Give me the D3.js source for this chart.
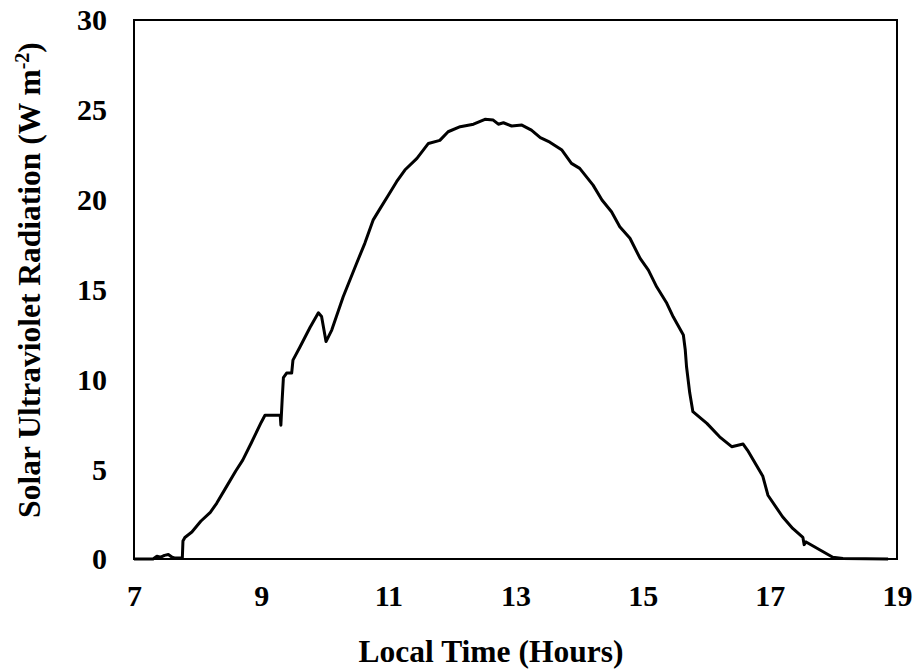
<!DOCTYPE html>
<html>
<head>
<meta charset="utf-8">
<script src="https://cdn.jsdelivr.net/npm/d3@7"></script>
<style>
  body { margin: 0; background: #fff; }
  svg text { font-family: "Liberation Serif", "Times New Roman", serif; font-weight: bold; fill: #000; }
</style>
</head>
<body>
<div id="container"></div>
<script>
/* DATA */
const hours = [7.00, 7.30, 7.36, 7.42, 7.48, 7.54, 7.60, 7.65, 7.76, 7.77, 7.80, 7.91, 8.05, 8.20, 8.30, 8.45,
  8.60, 8.71, 8.85, 9.00, 9.06, 9.30, 9.31, 9.33, 9.35, 9.40, 9.48, 9.50, 9.61, 9.77, 9.90, 9.95, 10.02, 10.11,
  10.29, 10.50, 10.63, 10.76, 10.87, 11.00, 11.13, 11.26, 11.45, 11.63, 11.81, 11.94, 12.13, 12.34, 12.52, 12.65,
  12.73, 12.81, 12.94, 13.10, 13.25, 13.39, 13.54, 13.73, 13.88, 14.01, 14.22, 14.36, 14.51, 14.64, 14.80, 14.96,
  15.09, 15.22, 15.38, 15.48, 15.64, 15.67, 15.69, 15.74, 15.79, 16.01, 16.21, 16.40, 16.58, 16.65, 16.89, 16.97,
  17.20, 17.36, 17.52, 17.54, 17.57, 17.79, 17.99, 18.15, 18.86];
const uv = [0, 0, 0.15, 0.1, 0.2, 0.25, 0.1, 0.05, 0.05, 1.0, 1.2, 1.5, 2.1, 2.6, 3.1, 4.0,
  4.9, 5.5, 6.5, 7.6, 8.0, 8.0, 7.45, 8.85, 10.1, 10.35, 10.35, 11.07, 11.8, 12.9, 13.7, 13.5, 12.1, 12.74,
  14.6, 16.45, 17.57, 18.86, 19.5, 20.25, 21.0, 21.65, 22.3, 23.13, 23.3, 23.78, 24.06, 24.2, 24.47, 24.43,
  24.2, 24.28, 24.1, 24.15, 23.87, 23.45, 23.2, 22.76, 22.02, 21.74, 20.81, 19.98, 19.33, 18.49, 17.85, 16.73,
  16.08, 15.15, 14.23, 13.48, 12.47, 11.63, 10.7, 9.25, 8.2, 7.55, 6.8, 6.25, 6.4, 6.05, 4.6, 3.55,
  2.35, 1.7, 1.2, 0.8, 0.95, 0.5, 0.1, 0.03, 0];
const xTicks = [7, 9, 11, 13, 15, 17, 19];
const yTicks = [0, 5, 10, 15, 20, 25, 30];

/* CONSTANTS */
const width = 919, height = 672;
const margin = {top: 20, right: 22, bottom: 113, left: 134};

const data = hours.map((h, i) => ({h: h, v: uv[i]}));

/* SCALES */
const xScale = d3.scaleLinear().domain([7, 19]).range([margin.left, width - margin.right]);
const yScale = d3.scaleLinear().domain([0, 30]).range([height - margin.bottom, margin.top]);

const svg = d3.select("#container")
  .append("svg")
  .attr("width", width)
  .attr("height", height);

// frame
svg.append("rect")
  .attr("x", margin.left)
  .attr("y", margin.top)
  .attr("width", xScale(19) - xScale(7))
  .attr("height", yScale(0) - yScale(30))
  .attr("fill", "none")
  .attr("stroke", "#000")
  .attr("stroke-width", 2);

// axes (no tick marks, just labels)
const xAxis = d3.axisBottom(xScale).tickValues(xTicks).tickSize(0).tickPadding(0);
const yAxis = d3.axisLeft(yScale).tickValues(yTicks).tickSize(0).tickPadding(0);

svg.append("g")
  .attr("transform", `translate(0, ${yScale(0)})`)
  .call(xAxis)
  .call(g => g.select(".domain").remove())
  .selectAll(".tick text")
  .attr("font-size", "30px")
  .attr("font-family", null)
  .attr("dy", null)
  .attr("y", 47);

svg.append("g")
  .attr("transform", `translate(${margin.left}, 0)`)
  .call(yAxis)
  .call(g => g.select(".domain").remove())
  .selectAll(".tick text")
  .attr("font-size", "30px")
  .attr("font-family", null)
  .attr("x", -27)
  .attr("dy", "0.33em");

// line
const line = d3.line().x(d => xScale(d.h)).y(d => yScale(d.v));
svg.append("path")
  .datum(data)
  .attr("fill", "none")
  .attr("stroke", "#000")
  .attr("stroke-width", 3)
  .attr("stroke-linejoin", "round")
  .attr("d", line);

// axis titles
svg.append("text")
  .attr("x", 491)
  .attr("y", 662)
  .attr("text-anchor", "middle")
  .attr("font-size", "31.5px")
  .text("Local Time (Hours)");

const yt = svg.append("text")
  .attr("transform", "translate(40, 280) rotate(-90)")
  .attr("text-anchor", "middle")
  .attr("font-size", "31.5px");
yt.append("tspan").text("Solar Ultraviolet Radiation (W m");
yt.append("tspan").attr("font-size", "20px").attr("dy", "-11").text("-2");
yt.append("tspan").attr("dy", "11").text(")");
</script>
</body>
</html>
